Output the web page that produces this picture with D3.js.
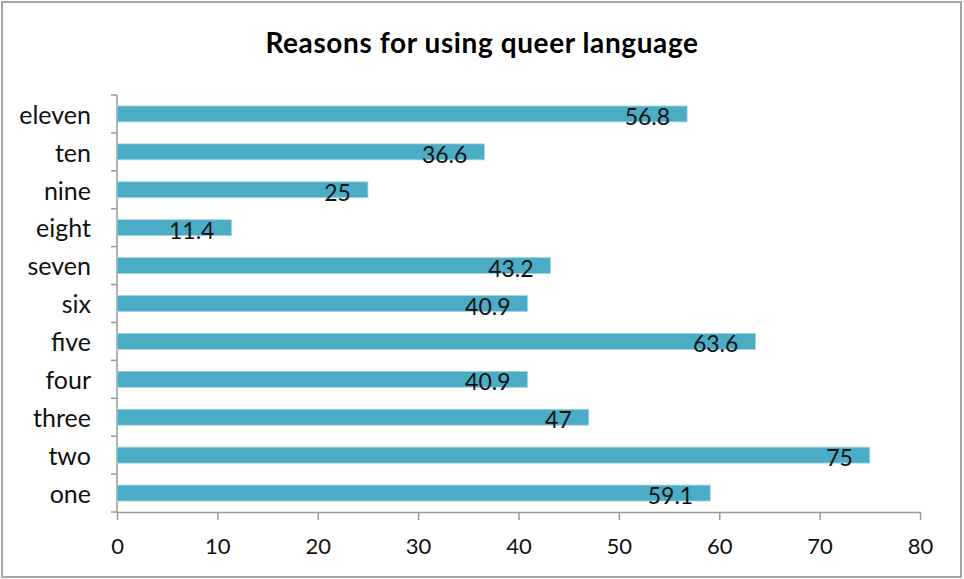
<!DOCTYPE html>
<html><head><meta charset="utf-8">
<script src="https://cdn.jsdelivr.net/npm/d3@7"></script>
<style>body{margin:0;background:#fff;} svg{display:block;}</style>
</head><body>
<svg id="chart" width="964" height="579"></svg>
<script>
const title = "Reasons for using queer language";
const categories = ["one","two","three","four","five","six","seven","eight","nine","ten","eleven"];
const values = [59.1, 75, 47, 40.9, 63.6, 40.9, 43.2, 11.4, 25, 36.6, 56.8];
const tickValues = [0,10,20,30,40,50,60,70,80];

(function(){
const svg = d3.select("#chart");
const font = "Lato, 'Open Sans', sans-serif";
const pL = 117, pR = 920, pT = 95, pB = 512;

svg.append("rect").attr("x",2).attr("y",2).attr("width",959).attr("height",575)
  .attr("fill","#fff").attr("stroke","#a6a6a6").attr("stroke-width",2);

svg.append("text").attr("x",482).attr("y",53).attr("text-anchor","middle")
  .attr("font-family",font).attr("font-weight","bold").attr("font-size",28)
  .attr("letter-spacing",0.6).attr("fill","#000").text(title);

const x = d3.scaleLinear().domain([0,80]).range([pL,pR]);
const y = d3.scaleBand().domain(categories.slice().reverse()).range([pT,pB]).paddingInner(0.58).paddingOuter(0.29);

const xAxis = d3.axisBottom(x).tickValues(tickValues).tickSize(8).tickSizeOuter(0).tickPadding(18);
const gx = svg.append("g").attr("transform",`translate(0,${pB})`).call(xAxis);
gx.select(".domain").attr("stroke","#999").attr("stroke-width",1.5);
gx.selectAll(".tick line").attr("stroke","#999").attr("stroke-width",1.5);
gx.selectAll(".tick text").attr("font-family",font).attr("font-size",22).attr("fill","#111");

const step = (pB-pT)/categories.length;
svg.append("line").attr("x1",pL).attr("x2",pL).attr("y1",pT).attr("y2",pB)
  .attr("stroke","#999").attr("stroke-width",1.5);
svg.selectAll(".ytick").data(d3.range(categories.length+1)).join("line")
  .attr("x1",pL-6).attr("x2",pL).attr("y1",i=>pT+i*step).attr("y2",i=>pT+i*step)
  .attr("stroke","#999").attr("stroke-width",1.5);
svg.selectAll(".ylab").data(categories).join("text")
  .attr("x",91).attr("y",d=>y(d)+y.bandwidth()/2+1).attr("dy","0.35em")
  .attr("text-anchor","end").attr("font-family",font).attr("font-size",25).attr("fill","#111")
  .text(d=>d);

svg.selectAll(".bar").data(categories).join("rect")
  .attr("x",x(0)).attr("y",d=>y(d)).attr("height",y.bandwidth())
  .attr("width",(d,i)=>x(values[i])-x(0))
  .attr("fill","#4bacc6").attr("stroke","#a5d3e0").attr("stroke-width",0.8);

svg.selectAll(".val").data(categories).join("text")
  .attr("x",(d,i)=>x(values[i])-17).attr("y",d=>y(d)+y.bandwidth()/2+3).attr("dy","0.35em")
  .attr("text-anchor","end").attr("font-family",font).attr("font-size",23).attr("fill","#111")
  .text((d,i)=>values[i]);
})();
</script>
</body></html>
